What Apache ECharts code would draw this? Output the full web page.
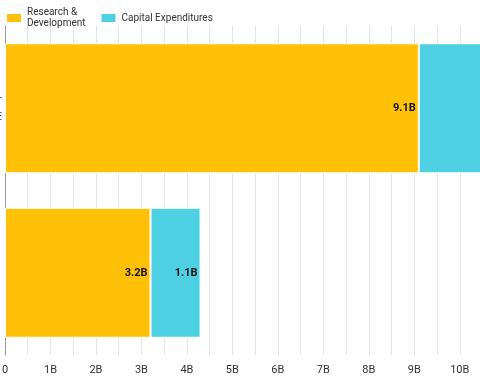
<!DOCTYPE html>
<html><head><meta charset="utf-8">
<script src="https://cdn.jsdelivr.net/npm/echarts@6/dist/echarts.min.js"></script>
<style>html,body{margin:0;padding:0;background:#fff}#c{width:480px;height:384px}</style>
</head><body><div id="c"></div>
<script>
var categories = ['Hardware Partner\nINTEL CORE', ''];
var seriesNames = ['Research & Development', 'Capital Expenditures'];
var rdValues = [9.1, 3.2];
var capexValues = [2.4, 1.1];
var tickLabels = ['0','1B','2B','3B','4B','5B','6B','7B','8B','9B','10B','11B'];

var chart = echarts.init(document.getElementById('c'));
var font = 'Roboto, "Liberation Sans", sans-serif';
chart.setOption({
  animation: false,
  textStyle: {fontFamily: font},
  legend: {
    left: 5, top: 7, padding: 0, itemWidth: 16, itemHeight: 10, itemGap: 14,
    icon: 'rect',
    textStyle: {fontSize: 10, color: '#333', fontFamily: font, lineHeight: 11},
    formatter: function (n) { return n === 'Research & Development' ? 'Research &\nDevelopment' : n; },
    data: seriesNames
  },
  grid: {left: 5, top: 26, width: 523, height: 329, containLabel: false, outerBoundsMode: 'none'},
  xAxis: {
    type: 'value', min: 0, max: 11.5, interval: 0.5,
    axisLine: {show: false}, axisTick: {show: false},
    splitLine: {show: true, lineStyle: {color: '#e4e4e4', width: 1}},
    axisLabel: {
      fontSize: 11, color: '#333', fontFamily: font, margin: 10,
      formatter: function (v) {
        if (Math.abs(v - Math.round(v)) > 1e-6) return '';
        return tickLabels[Math.round(v)] || '';
      }
    }
  },
  yAxis: {
    type: 'category', inverse: true, data: categories,
    axisLine: {show: true, lineStyle: {color: '#999', width: 1}},
    axisTick: {show: false},
    axisLabel: {fontSize: 11, color: '#333', margin: 3, lineHeight: 17}
  },
  series: [
    {
      name: seriesNames[0], type: 'bar', stack: 'a', data: rdValues, barWidth: 130,
      itemStyle: {color: '#FFC107', borderColor: '#fff', borderWidth: 1},
      label: {show: true, position: 'insideRight', distance: 3, fontSize: 11, fontWeight: 'bold', color: '#111', fontFamily: font,
        formatter: function (p) { return p.value + 'B'; }}
    },
    {
      name: seriesNames[1], type: 'bar', stack: 'a', data: capexValues, barWidth: 130,
      itemStyle: {color: '#4DD0E1', borderColor: '#fff', borderWidth: 1},
      label: {show: true, position: 'insideRight', distance: 3, fontSize: 11, fontWeight: 'bold', color: '#111', fontFamily: font,
        formatter: function (p) { return p.value + 'B'; }}
    }
  ]
});
</script></body></html>
